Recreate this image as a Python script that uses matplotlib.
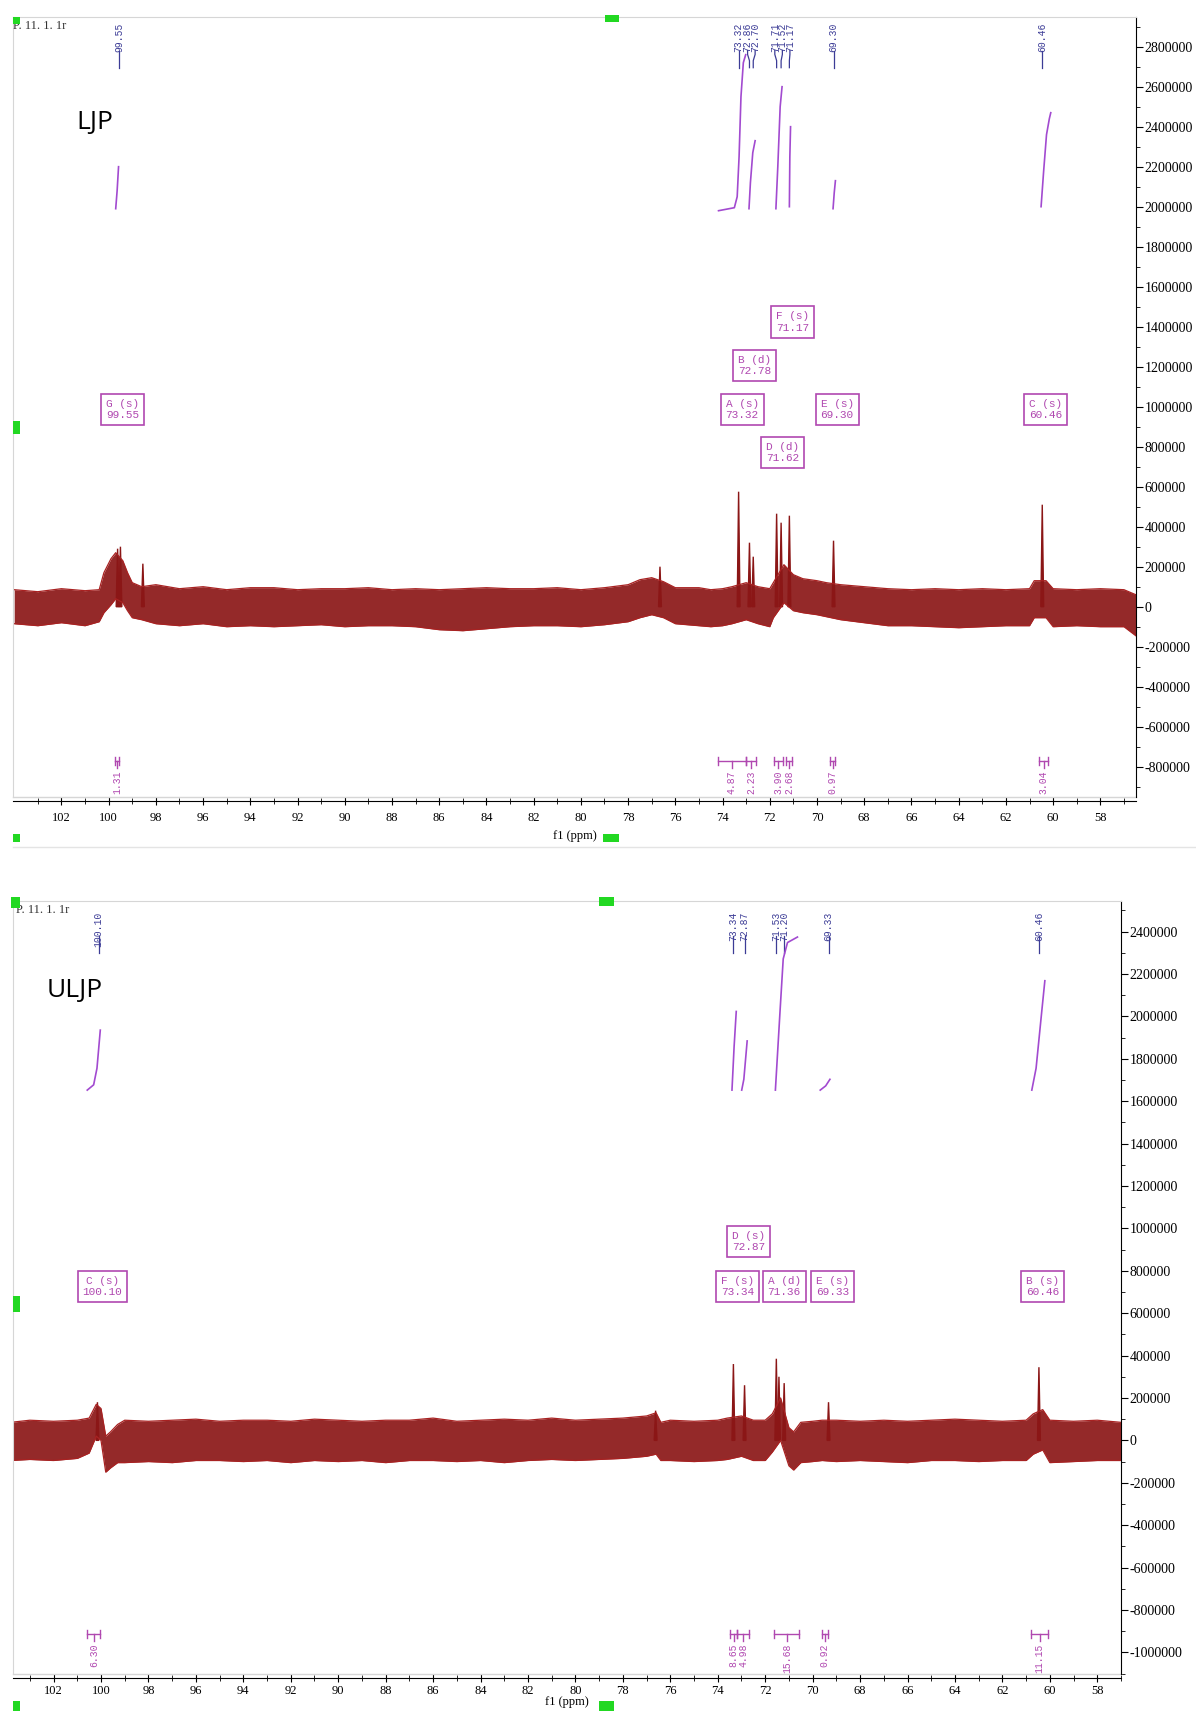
import numpy as np
import matplotlib.pyplot as plt
from matplotlib.patches import Rectangle
from matplotlib.ticker import MultipleLocator, FuncFormatter
from matplotlib.transforms import blended_transform_factory

plt.rcParams['axes.unicode_minus'] = False

# ---------------- LJP (top spectrum) ----------------
ljp_env_ppm = [104.0, 103.0, 102.0, 101.0, 100.4, 100.2, 99.9, 99.7, 99.4, 99.2, 99.0, 98.6,
               98.0, 97.0, 96.0, 95.0, 94.0, 93.0, 92.0, 91.0, 90.0, 89.0, 88.0, 87.0,
               86.0, 85.0, 84.0, 83.0, 82.0, 81.0, 80.0, 79.0, 78.0, 77.5, 77.0, 76.5,
               76.0, 75.0, 74.5, 74.0, 73.6, 73.0, 72.5, 72.0, 71.85, 71.4, 71.0, 70.6,
               70.0, 69.6, 69.0, 68.0, 67.0, 66.0, 65.0, 64.0, 63.0, 62.0, 61.0, 60.8,
               60.3, 60.0, 59.0, 58.0, 57.0, 56.5]
ljp_env_hi = [85000, 75000, 90000, 80000, 85000, 170000, 240000, 270000, 230000, 170000, 120000, 100000,
              110000, 90000, 100000, 85000, 95000, 95000, 85000, 90000, 90000, 95000, 85000, 90000,
              85000, 90000, 95000, 90000, 90000, 95000, 85000, 95000, 110000, 135000, 145000, 125000,
              95000, 95000, 85000, 90000, 100000, 120000, 100000, 90000, 120000, 210000, 160000, 140000,
              130000, 120000, 110000, 100000, 90000, 85000, 90000, 85000, 90000, 85000, 90000, 130000,
              130000, 90000, 85000, 90000, 85000, 60000]
ljp_env_lo = [-85000, -95000, -80000, -95000, -75000, -30000, 10000, 40000, 20000, -20000, -55000, -65000,
              -85000, -95000, -85000, -100000, -95000, -100000, -95000, -90000, -100000, -95000, -95000, -100000,
              -115000, -120000, -110000, -100000, -95000, -95000, -100000, -90000, -75000, -55000, -40000, -55000,
              -85000, -95000, -100000, -95000, -85000, -65000, -85000, -100000, -55000, 20000, -20000, -30000,
              -40000, -50000, -65000, -80000, -95000, -95000, -100000, -105000, -100000, -95000, -95000, -55000,
              -55000, -100000, -95000, -100000, -100000, -145000]
ljp_peak_ppm = [99.62, 99.50, 98.55, 76.65, 73.32, 72.86, 72.70, 71.71, 71.52, 71.17, 69.30, 60.46]
ljp_peak_hi = [290000, 300000, 215000, 200000, 575000, 320000, 250000, 465000, 420000, 455000, 330000, 510000]

ljp_shifts = [99.55, 73.32, 72.86, 72.70, 71.71, 71.52, 71.17, 69.30, 60.46]

ljp_mult_names = ['G (s)', 'A (s)', 'B (d)', 'F (s)', 'E (s)', 'D (d)', 'C (s)']
ljp_mult_ppm = [99.55, 73.32, 72.78, 71.17, 69.30, 71.62, 60.46]

ljp_int_from = [99.75, 74.19, 73.02, 71.82, 71.30, 69.44, 60.60]
ljp_int_to = [99.55, 73.02, 72.58, 71.45, 71.07, 69.23, 60.20]
ljp_int_text = ['1.31', '4.87', '2.23', '3.90', '2.68', '0.97', '3.04']

ljp_curve_ppm = [[99.70, 99.64, 99.58],
                 [74.17, 73.50, 73.38, 73.30, 73.22, 73.12, 73.02],
                 [72.88, 72.82, 72.72, 72.62],
                 [71.74, 71.66, 71.56, 71.48],
                 [71.17, 71.15, 71.12],
                 [69.32, 69.27, 69.22],
                 [60.51, 60.40, 60.28, 60.16, 60.10]]
ljp_curve_val = [[1990000, 2080000, 2200000],
                 [1980000, 1995000, 2050000, 2250000, 2550000, 2720000, 2760000],
                 [1990000, 2120000, 2270000, 2330000],
                 [1990000, 2200000, 2500000, 2600000],
                 [2000000, 2250000, 2400000],
                 [1990000, 2070000, 2130000],
                 [2000000, 2180000, 2360000, 2440000, 2470000]]

# ---------------- ULJP (bottom spectrum) ----------------
uljp_env_ppm = [103.8, 103.0, 102.0, 101.0, 100.5, 100.2, 100.0, 99.8, 99.6, 99.3, 99.0, 98.0,
                97.0, 96.0, 95.0, 94.0, 93.0, 92.0, 91.0, 90.0, 89.0, 88.0, 87.0, 86.0,
                85.0, 84.0, 83.0, 82.0, 81.0, 80.0, 79.0, 78.0, 77.0, 76.6, 76.4, 76.0,
                75.0, 74.0, 73.6, 73.0, 72.5, 72.0, 71.7, 71.35, 71.0, 70.8, 70.5, 70.0,
                69.6, 69.0, 68.0, 67.0, 66.0, 65.0, 64.0, 63.0, 62.0, 61.0, 60.7, 60.3,
                60.0, 59.0, 58.0, 57.0]
uljp_env_hi = [85000, 95000, 90000, 95000, 105000, 170000, 150000, 20000, 40000, 75000, 95000, 90000,
               95000, 100000, 90000, 95000, 95000, 90000, 100000, 95000, 90000, 95000, 95000, 105000,
               90000, 95000, 100000, 95000, 105000, 95000, 100000, 105000, 115000, 130000, 85000, 95000,
               90000, 95000, 105000, 115000, 95000, 95000, 125000, 200000, 60000, 40000, 85000, 90000,
               95000, 95000, 90000, 95000, 90000, 95000, 100000, 95000, 90000, 95000, 125000, 145000,
               95000, 90000, 95000, 85000]
uljp_env_lo = [-95000, -90000, -95000, -85000, -60000, 20000, 0, -150000, -130000, -105000, -105000, -100000,
               -105000, -95000, -95000, -100000, -95000, -105000, -95000, -100000, -95000, -105000, -95000, -95000,
               -100000, -95000, -105000, -95000, -90000, -95000, -90000, -85000, -75000, -65000, -95000, -95000,
               -100000, -95000, -90000, -75000, -95000, -95000, -55000, 0, -120000, -140000, -105000, -100000,
               -95000, -100000, -95000, -100000, -105000, -95000, -95000, -100000, -95000, -95000, -65000, -45000,
               -105000, -100000, -95000, -95000]
uljp_peak_ppm = [100.15, 76.62, 73.34, 72.87, 71.53, 71.42, 71.20, 69.33, 60.46]
uljp_peak_hi = [180000, 140000, 360000, 260000, 385000, 300000, 270000, 180000, 345000]

uljp_shifts = [100.10, 73.34, 72.87, 71.53, 71.20, 69.33, 60.46]

uljp_mult_names = ['C (s)', 'F (s)', 'A (d)', 'E (s)', 'D (s)', 'B (s)']
uljp_mult_ppm = [100.10, 73.34, 71.36, 69.33, 72.87, 60.46]

uljp_int_from = [100.58, 73.50, 73.17, 71.61, 69.61, 60.79]
uljp_int_to = [100.03, 73.17, 72.70, 70.57, 69.37, 60.07]
uljp_int_text = ['6.30', '8.65', '4.98', '15.68', '0.92', '11.15']

uljp_curve_ppm = [[100.58, 100.31, 100.17, 100.03],
                  [73.40, 73.31, 73.22],
                  [72.99, 72.90, 72.76],
                  [71.57, 71.38, 71.24, 71.06, 70.64],
                  [69.68, 69.45, 69.27],
                  [60.76, 60.58, 60.35, 60.21]]
uljp_curve_val = [[1652000, 1677000, 1755000, 1935000],
                  [1652000, 1858000, 2023000],
                  [1652000, 1703000, 1884000],
                  [1652000, 2013000, 2271000, 2348000, 2374000],
                  [1652000, 1672000, 1703000],
                  [1652000, 1755000, 2013000, 2168000]]

# ---------------- styles / layout ----------------
TRACE = '#8b1616'
TRACE_EDGE = '#a82222'
SHIFT_C = '#3c3c96'
INT_C = '#a24ad0'
BOX_C = '#b048b0'
MONO = 'Liberation Mono'
SERIF = 'Liberation Serif'
W, H = 1196, 1711

fig = plt.figure(figsize=(W / 100, H / 100), dpi=100)


def px_axes(x0, y0, x1, y1):
    return fig.add_axes([x0 / W, 1 - y1 / H, (x1 - x0) / W, (y1 - y0) / H])


def style_axes(ax, xlim, ylim, tpad, lpad):
    ax.set_xlim(*xlim)
    ax.set_ylim(*ylim)
    ax.patch.set_alpha(0)
    for s in ['top', 'left']:
        ax.spines[s].set_color('#d6d6d6')
    ax.spines['right'].set_color('black')
    ax.spines['bottom'].set_color('black')
    ax.spines['bottom'].set_position(('outward', 3))
    ax.plot([0, 1], [0, 0], transform=ax.transAxes, color='#d6d6d6', lw=1, clip_on=False)
    ax.yaxis.tick_right()
    ax.set_xticks(np.arange(58, 103, 2))
    ax.set_xticks(np.arange(57, 104, 1), minor=True)
    ax.yaxis.set_major_locator(MultipleLocator(200000))
    ax.yaxis.set_minor_locator(MultipleLocator(100000))
    ax.yaxis.set_major_formatter(FuncFormatter(lambda v, p: str(int(round(v)))))
    ax.tick_params(axis='x', which='major', direction='inout', length=6, labelsize=9, pad=tpad)
    ax.tick_params(axis='x', which='minor', direction='inout', length=4)
    ax.tick_params(axis='y', which='major', direction='out', length=5, labelsize=10, pad=1)
    ax.tick_params(axis='y', which='minor', direction='out', length=3)
    for lab in ax.get_xticklabels() + ax.get_yticklabels():
        lab.set_family(SERIF)
    ax.set_xlabel('f1 (ppm)', family=SERIF, fontsize=9, labelpad=lpad)


def spread(vals, gap):
    pos = list(vals)
    for _ in range(100):
        moved = False
        for i in range(len(pos) - 1):
            d = pos[i] - pos[i + 1]
            if d < gap - 1e-9:
                sh = (gap - d) / 2
                pos[i] += sh
                pos[i + 1] -= sh
                moved = True
        if not moved:
            break
    return pos


def draw_trace(ax, env_ppm, env_hi, env_lo, pk_ppm, pk_hi):
    ax.fill_between(env_ppm, env_lo, env_hi, color=TRACE, lw=0, alpha=0.92)
    ax.plot(env_ppm, env_hi, color=TRACE_EDGE, lw=0.9)
    ax.plot(env_ppm, env_lo, color=TRACE_EDGE, lw=0.9)
    w = 0.06
    for p, h in zip(pk_ppm, pk_hi):
        ax.fill([p + w, p, p - w], [0, h, 0], color=TRACE, lw=1.0)


def draw_shifts(ax, shifts, fr):
    trans = blended_transform_factory(ax.transData, ax.transAxes)
    peaks = sorted(shifts, reverse=True)
    pos = spread(peaks, 0.32)
    for p, x in zip(peaks, pos):
        ax.text(x, fr[0], f'{p:.2f}', rotation=90, ha='center', va='top', transform=trans,
                family=MONO, fontsize=7, color=SHIFT_C)
        ax.plot([x, x, p, p], fr[1:], transform=trans, color=SHIFT_C, lw=0.9, clip_on=False)


def draw_boxes(ax, names, ppms, rows, y0, step, shift):
    for n, p, r in zip(names, ppms, rows):
        ax.text(p - shift, y0 + r * step, f'{n}\n{p:.2f}', ha='center', va='center',
                family=MONO, fontsize=8, color=BOX_C, linespacing=1.15,
                bbox=dict(boxstyle='square,pad=0.45', fc='white', ec=BOX_C, lw=1.2))


def draw_integrals(ax, f, t, texts, y, dpx, cppm, cval):
    for a, b, s in zip(f, t, texts):
        ax.plot([a, b], [y, y], color=BOX_C, lw=1)
        ax.plot([a, a], [y - 4 * dpx, y + 4 * dpx], color=BOX_C, lw=1)
        ax.plot([b, b], [y - 4 * dpx, y + 4 * dpx], color=BOX_C, lw=1)
        m = (a + b) / 2
        ax.plot([m, m], [y, y - 7 * dpx], color=BOX_C, lw=1)
        ax.text(m, y - 10 * dpx, s, rotation=90, ha='center', va='top',
                family=MONO, fontsize=7, color=BOX_C)
    for xs, ys in zip(cppm, cval):
        ax.plot(xs, ys, color=INT_C, lw=1.2)


# ---- top panel ----
ax1 = px_axes(13, 17, 1136, 797)
ylim1 = (-951500, 2948500)
style_axes(ax1, (104.05, 56.49), ylim1, 5, 4)
dpx1 = (ylim1[1] - ylim1[0]) / 780
draw_trace(ax1, ljp_env_ppm, ljp_env_hi, ljp_env_lo, ljp_peak_ppm, ljp_peak_hi)
draw_shifts(ax1, ljp_shifts, [0.993, 0.957, 0.952, 0.944, 0.935])
draw_boxes(ax1, ljp_mult_names, ljp_mult_ppm, [0, 0, 1, 2, 0, -1, 0], 987500, 43.6 * dpx1, 0.15)
draw_integrals(ax1, ljp_int_from, ljp_int_to, ljp_int_text, -771500, dpx1, ljp_curve_ppm, ljp_curve_val)
ax1.text(0.0, 0.985, 'P. 11. 1. 1r', transform=ax1.transAxes, family=SERIF, fontsize=9, color='#333333')

# ---- bottom panel ----
ax2 = px_axes(13, 901, 1121, 1674)
ylim2 = (-1102000, 2544000)
style_axes(ax2, (103.71, 57.0), ylim2, 2, -1)
dpx2 = (ylim2[1] - ylim2[0]) / 773
draw_trace(ax2, uljp_env_ppm, uljp_env_hi, uljp_env_lo, uljp_peak_ppm, uljp_peak_hi)
draw_shifts(ax2, uljp_shifts, [0.986, 0.955, 0.951, 0.943, 0.933])
draw_boxes(ax2, uljp_mult_names, uljp_mult_ppm, [0, 0, 0, 0, 1, 0], 726000, 44.7 * dpx2, 0.16)
draw_integrals(ax2, uljp_int_from, uljp_int_to, uljp_int_text, -912000, dpx2, uljp_curve_ppm, uljp_curve_val)
ax2.text(0.003, 0.985, 'P. 11. 1. 1r', transform=ax2.transAxes, family=SERIF, fontsize=9, color='#333333')

fig.text(95 / W, 1 - 123 / H, 'LJP', ha='center', va='center', fontsize=19, family='Open Sans')
fig.text(75 / W, 1 - 990 / H, 'ULJP', ha='center', va='center', fontsize=19, family='Open Sans')

# screenshot frame line and green handles
fig.add_artist(plt.Line2D([13 / W, 1], [1 - 847 / H] * 2, color='#e4e4e4', lw=1))
for x0, y0, x1, y1 in [(13, 17, 20, 24), (605, 15, 619, 22), (13, 421, 20, 434),
                       (13, 834, 20, 842), (603, 834, 619, 842),
                       (11, 897, 20, 908), (599, 897, 614, 906), (13, 1296, 20, 1312),
                       (13, 1701, 20, 1711), (599, 1701, 614, 1711)]:
    fig.add_artist(Rectangle((x0 / W, 1 - y1 / H), (x1 - x0) / W, (y1 - y0) / H,
                             transform=fig.transFigure, color='#22d822', lw=0))

fig.savefig('out.png', dpi=100)
